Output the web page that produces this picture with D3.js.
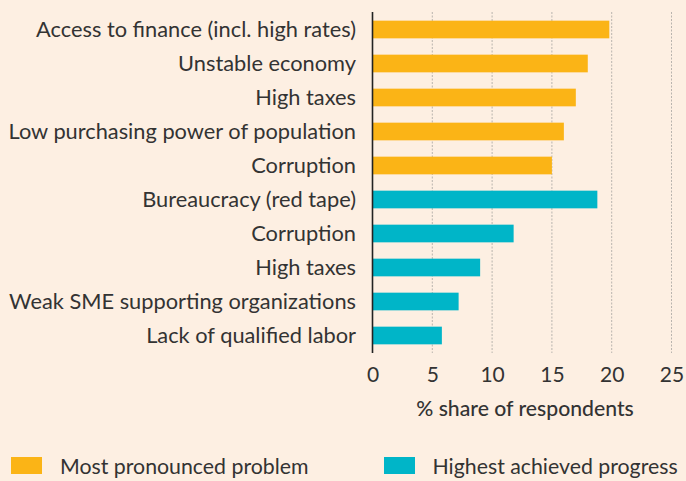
<!DOCTYPE html>
<html><head><meta charset="utf-8">
<script src="https://cdn.jsdelivr.net/npm/d3@7"></script>
<style>
html,body{margin:0;padding:0;background:#fdefe2;}
svg{display:block;}
text{font-family:Lato,"Open Sans",sans-serif;fill:#333;}
</style></head><body>
<svg id="c" width="686" height="481"></svg>
<script>
const categories = ["Access to finance (incl. high rates)","Unstable economy","High taxes","Low purchasing power of population","Corruption","Bureaucracy (red tape)","Corruption","High taxes","Weak SME supporting organizations","Lack of qualified labor"];
const values = [19.8, 18.0, 17.0, 16.0, 15.0, 18.8, 11.8, 9.0, 7.2, 5.8];
const groups = ["problem","problem","problem","problem","problem","progress","progress","progress","progress","progress"];
const seriesNames = ["Most pronounced problem","Highest achieved progress"];
const seriesKeys = ["problem","progress"];
const seriesColors = ["#fbb416","#00b5c8"];
const tickValues = [0,5,10,15,20,25];
const axisTitle = "% share of respondents";

const svg = d3.select("#c");
const x = d3.scaleLinear().domain([0,25]).range([372.5, 671.5]);
const ids = categories.map((c,i)=>i);
const y = d3.scaleBand().domain(ids).range([12.5, 352.5]).paddingInner(0.48).paddingOuter(0.24);
const color = d3.scaleOrdinal().domain(seriesKeys).range(seriesColors);

// gridlines
svg.append("g").selectAll("line").data(tickValues.filter(t=>t>0)).join("line")
  .attr("x1",d=>x(d)).attr("x2",d=>x(d)).attr("y1",12).attr("y2",353)
  .attr("stroke","#b9b4ae").attr("stroke-width",1).attr("stroke-dasharray","2,1.5");

// bars
svg.append("g").selectAll("rect").data(values).join("rect")
  .attr("x",x(0)).attr("y",(d,i)=>y(i)).attr("width",d=>x(d)-x(0)).attr("height",y.bandwidth())
  .attr("fill",(d,i)=>color(groups[i]));

// axis line
svg.append("line").attr("x1",x(0)).attr("x2",x(0)).attr("y1",12).attr("y2",353)
  .attr("stroke","#222").attr("stroke-width",1.6);

// category labels
svg.append("g").selectAll("text").data(categories).join("text")
  .attr("x",356).attr("y",(d,i)=>y(i)+y.bandwidth()/2).attr("dy","0.36em")
  .attr("text-anchor","end").attr("font-size",21.8).text(d=>d);

// x axis ticks via d3 axis
const xa = svg.append("g").attr("transform","translate(0,353)")
  .call(d3.axisBottom(x).tickValues(tickValues).tickSize(0).tickPadding(0).tickFormat(d3.format("d")));
xa.select(".domain").remove();
xa.selectAll("text").attr("font-size",21).attr("y",28.5).attr("dy",0).style("font-family","Lato,sans-serif").attr("fill","#444");

svg.append("text").attr("x",525).attr("y",415.5).attr("text-anchor","middle")
  .attr("font-size",21.2).attr("font-weight",500).text(axisTitle);

// legend
const legX = [11, 384];
const lg = svg.append("g").selectAll("g").data(seriesKeys).join("g")
  .attr("transform",(d,i)=>`translate(${legX[i]},457)`);
lg.append("rect").attr("width",31).attr("height",17).attr("fill",d=>color(d));
lg.append("text").attr("x",(d,i)=>i===0?49:48.5).attr("y",17).attr("font-size",21.3).text((d,i)=>seriesNames[i]);
</script></body></html>
